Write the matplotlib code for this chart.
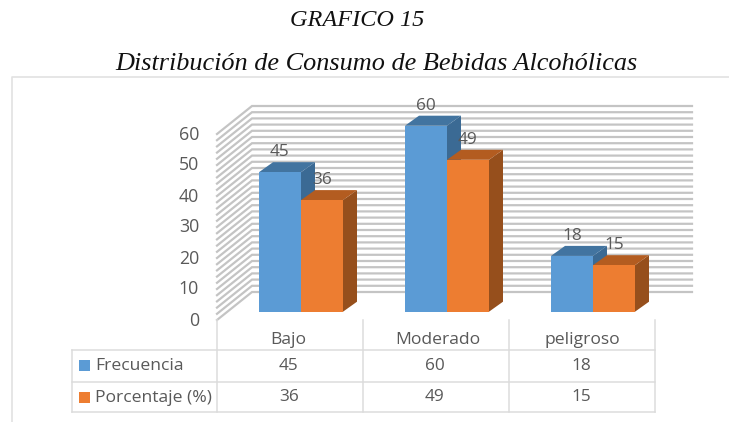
import matplotlib
matplotlib.use("Agg")
import matplotlib.pyplot as plt
from matplotlib.patches import Polygon, Rectangle

title_top = "GRAFICO 15"
title_sub = "Distribución de Consumo de Bebidas Alcohólicas"
categories = ["Bajo", "Moderado", "peligroso"]
frecuencia = [45, 60, 18]
porcentaje = [36, 49, 15]
series_names = ["Frecuencia", "Porcentaje (%)"]
y_ticks = [0, 10, 20, 30, 40, 50, 60]
grid_levels = list(range(0, 61, 2))

W, H = 729, 422
X0, XS = 301.0, 146.0    # pixel of category 0 centre, pixels per category
Y0, YS = 311.7, 3.1      # pixel of value 0 at the bar front, pixels per unit
BAR_W = 42 / XS
DX, DY = 14 / XS, 10 / YS  # bar depth

BLUE, BLUE_TOP, BLUE_SIDE = "#5b9bd5", "#4274a0", "#3b6a94"
ORANGE, ORANGE_TOP, ORANGE_SIDE = "#ed7d31", "#b35c20", "#964f1c"
TXT = "#595959"
LINE = "#dcdcdc"
GRID = "#c4c4c4"
FONT = "Open Sans"
plt.rcParams["font.family"] = FONT

fig = plt.figure(figsize=(W / 100, H / 100), dpi=100)

# overlay in pixel coordinates for frame, walls and table
px = fig.add_axes([0, 0, 1, 1])
px.set_xlim(0, W); px.set_ylim(H, 0); px.axis("off")

# data axes: bars are drawn through this scale
ax = fig.add_axes([0, 0, 1, 1])
ax.set_xlim((0 - X0) / XS, (W - X0) / XS)
ax.set_ylim((Y0 - H) / YS, Y0 / YS)
ax.axis("off"); ax.patch.set_alpha(0)

# chart frame
px.plot([729, 12, 12], [77, 77, 422], color="#e2e2e2", lw=1.2)

# titles
px.text(357.5, 21, title_top, family="Liberation Serif", style="italic", fontsize=17.5,
        color="#111111", ha="center", va="center")
px.text(376.5, 64, title_sub, family="Liberation Serif", style="italic", fontsize=18.9,
        color="#111111", ha="center", va="center")

# walls
for v in grid_levels:
    f = 320 - YS * v
    b = 292 - YS * v
    px.plot([217, 252, 692], [f, b, b], color=GRID, lw=1.6, solid_joinstyle="miter")

# y tick labels
for v in y_ticks:
    px.text(199, 320 - YS * v + 0.5, str(v), color=TXT, fontsize=12.8, ha="right", va="center")


def bar3d(xc, val, face, top, side, z):
    l, r = xc - BAR_W / 2, xc + BAR_W / 2
    ax.add_patch(Polygon([(r, 0), (r + DX, DY), (r + DX, val + DY), (r, val)], fc=side, ec="none", zorder=z))
    ax.add_patch(Polygon([(l, val), (r, val), (r + DX, val + DY), (l + DX, val + DY)], fc=top, ec="none", zorder=z))
    ax.add_patch(Rectangle((l, 0), BAR_W, val, fc=face, ec="none", zorder=z + 0.1))


for i, (a, b) in enumerate(zip(frecuencia, porcentaje)):
    bar3d(i - BAR_W / 2, a, BLUE, BLUE_TOP, BLUE_SIDE, 2 + i)
    bar3d(i + BAR_W / 2, b, ORANGE, ORANGE_TOP, ORANGE_SIDE, 2.5 + i)
    ax.annotate(str(a), (i - BAR_W / 2, a), xytext=(0, 14.3), textcoords="offset points",
                color=TXT, fontsize=12.4, ha="center", va="center", zorder=10)
    ax.annotate(str(b), (i + BAR_W / 2, b), xytext=(0, 14.3), textcoords="offset points",
                color=TXT, fontsize=12.4, ha="center", va="center", zorder=10)

# data table
col_x = [217, 363, 509, 655]
row_y = [350, 381.7, 412.3]
for x in col_x:
    px.plot([x, x], [320, 412.3], color=LINE, lw=1.1)
px.plot([72, 72], [350, 412.3], color=LINE, lw=1.1)
for y in row_y:
    px.plot([72, 655], [y, y], color=LINE, lw=1.1)

cat_shift = [-2, 1.5, 0]
for i, c in enumerate(categories):
    cx = (col_x[i] + col_x[i + 1]) / 2
    px.text(cx + cat_shift[i], 340, c, color=TXT, fontsize=12.6, ha="center", va="center")
    px.text(cx - 1, 366.5, str(frecuencia[i]), color=TXT, fontsize=12.4, ha="center", va="center")
    px.text(cx - 1, 397, str(porcentaje[i]), color=TXT, fontsize=12.4, ha="center", va="center")

for y, name, col in zip([365, 397], series_names, [BLUE, ORANGE]):
    px.add_patch(Rectangle((79, y - 5.5), 11, 11, fc=col, ec="none"))
    px.text(95, y + 0.5, name, color=TXT, fontsize=12.6, ha="left", va="center")

fig.savefig("out.png", dpi=100)
